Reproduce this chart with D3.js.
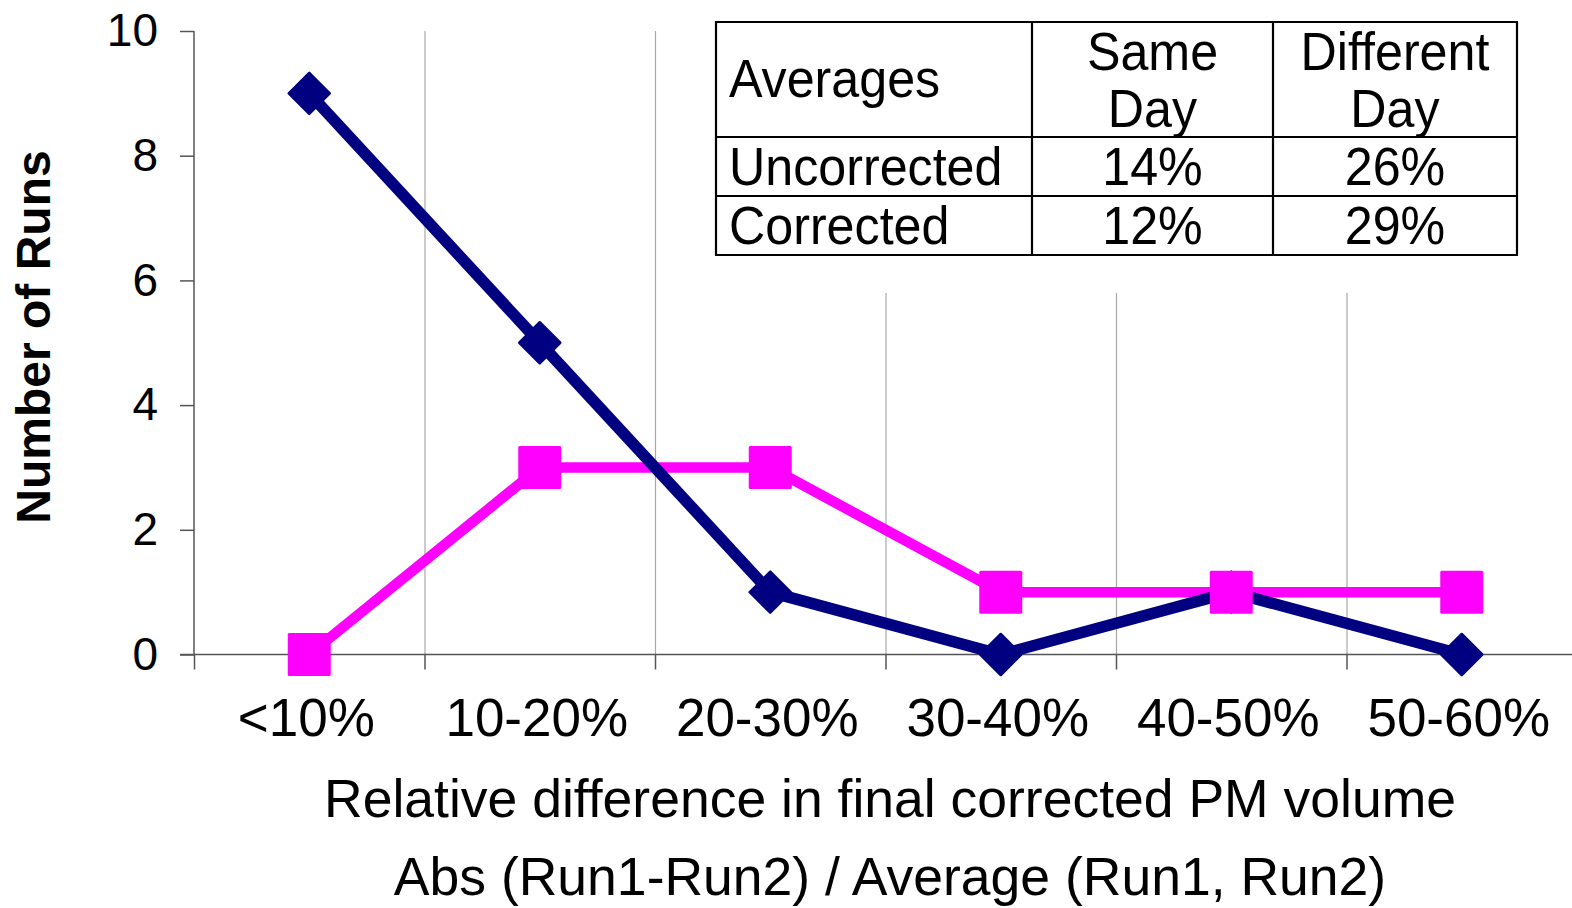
<!DOCTYPE html>
<html>
<head>
<meta charset="utf-8">
<script src="https://cdn.jsdelivr.net/npm/d3@7"></script>
<style>
  html, body { margin: 0; padding: 0; background: #fff; }
  svg { display: block; font-family: "Liberation Sans", Arial, sans-serif; }
</style>
</head>
<body>
<svg id="chart" width="1572" height="908"></svg>
<script>
// Histogram of run-to-run relative differences
const categories = ["<10%", "10-20%", "20-30%", "30-40%", "40-50%", "50-60%"];
const uncorrected = [9, 5, 1, 0, 1, 0];
const corrected   = [0, 3, 3, 1, 1, 1];
const yTicks = [0, 2, 4, 6, 8, 10];

// Summary table of averages
const tableHeader = ["Averages", "Same\nDay", "Different\nDay"];
const tableRows = [
  ["Uncorrected", "14%", "26%"],
  ["Corrected", "12%", "29%"]
];

const svg = d3.select("#chart");
const plot = { left: 194, right: 1577, top: 31, bottom: 654.5 };

const x = d3.scaleBand().domain(categories).range([plot.left, plot.right]).padding(0);
const y = d3.scaleLinear().domain([0, 10]).range([plot.bottom, plot.top]);

// Vertical gridlines at category boundaries
const boundaries = categories.slice(1).map(c => x(c)).concat([plot.right]);
svg.append("g").selectAll("line").data(boundaries).join("line")
  .attr("x1", d => d + 0.5).attr("x2", d => d + 0.5)
  .attr("y1", plot.top).attr("y2", plot.bottom)
  .attr("stroke", "#a8a8a8").attr("stroke-width", 1.2);

// Y axis
const yAxis = svg.append("g").attr("transform", `translate(${plot.left},0)`)
  .call(d3.axisLeft(y).tickValues(yTicks).tickSize(14).tickPadding(22));
yAxis.select(".domain").attr("stroke", "#555").attr("stroke-width", 1.5).attr("d", `M0,${plot.top}V${plot.bottom}`);
yAxis.selectAll(".tick line").attr("stroke", "#555").attr("stroke-width", 1.5);
yAxis.selectAll(".tick text").attr("font-size", 46).attr("fill", "#000")
  .attr("font-family", "'Liberation Sans', Arial, sans-serif");

// X axis: line plus boundary ticks
const xg = svg.append("g");
xg.append("line").attr("x1", plot.left - 14).attr("x2", 1572)
  .attr("y1", plot.bottom).attr("y2", plot.bottom)
  .attr("stroke", "#555").attr("stroke-width", 1.5);
xg.selectAll("line.tk").data([plot.left].concat(boundaries)).join("line")
  .attr("class", "tk")
  .attr("x1", d => d + 0.5).attr("x2", d => d + 0.5)
  .attr("y1", plot.bottom).attr("y2", plot.bottom + 15)
  .attr("stroke", "#555").attr("stroke-width", 1.5);
xg.selectAll("text").data(categories).join("text")
  .attr("x", d => x(d) + x.bandwidth() / 2 - 3)
  .attr("y", 736)
  .attr("text-anchor", "middle")
  .attr("font-size", 53)
  .text(d => d);

// Axis titles
svg.append("text").attr("x", 890).attr("y", 817).attr("text-anchor", "middle")
  .attr("font-size", 53.5).text("Relative difference in final corrected PM volume");
svg.append("text").attr("x", 890).attr("y", 895).attr("text-anchor", "middle")
  .attr("font-size", 53.5).text("Abs (Run1-Run2) / Average (Run1, Run2)");
svg.append("text")
  .attr("transform", "translate(50,337) rotate(-90)")
  .attr("text-anchor", "middle")
  .attr("font-size", 48).attr("font-weight", "bold")
  .text("Number of Runs");

// Series helpers
const cx = d => x(d) + x.bandwidth() / 2;
const lineGen = d3.line().x(d => cx(d.c)).y(d => y(d.v));
const toPts = arr => categories.map((c, i) => ({ c, v: arr[i] }));

// Summary table (drawn over the gridlines, beneath the series)
const tbl = { cols: [716, 1032, 1273, 1517], rowsY: [22, 137, 196, 255] };
svg.append("rect").attr("x", 712).attr("y", 16).attr("width", 815).attr("height", 277).attr("fill", "#fff");
const tg = svg.append("g").attr("stroke", "#000").attr("stroke-width", 2.2);
tbl.rowsY.forEach(yy => tg.append("line").attr("x1", tbl.cols[0] - 1).attr("x2", tbl.cols[3] + 1).attr("y1", yy).attr("y2", yy));
tbl.cols.forEach(xx => tg.append("line").attr("x1", xx).attr("x2", xx).attr("y1", tbl.rowsY[0]).attr("y2", tbl.rowsY[3]));

function condensed(xPos, yPos, str, anchor) {
  svg.append("text")
    .attr("transform", `translate(${xPos},${yPos}) scale(0.93,1)`)
    .attr("text-anchor", anchor)
    .attr("font-size", 54)
    .text(str);
}
// header
condensed(729, 97, tableHeader[0], "start");
[1, 2].forEach(ci => {
  const mid = (tbl.cols[ci] + tbl.cols[ci + 1]) / 2;
  const parts = tableHeader[ci].split("\n");
  condensed(mid, 70, parts[0], "middle");
  condensed(mid, 127, parts[1], "middle");
});
// body rows
tableRows.forEach((row, ri) => {
  const base = [185, 244][ri];
  condensed(729, base, row[0], "start");
  [1, 2].forEach(ci => condensed((tbl.cols[ci] + tbl.cols[ci + 1]) / 2, base, row[ci], "middle"));
});

// Lines
svg.append("path").datum(toPts(corrected)).attr("d", lineGen)
  .attr("fill", "none").attr("stroke", "#ff00ff").attr("stroke-width", 10.5).attr("stroke-linejoin", "round");
svg.append("path").datum(toPts(uncorrected)).attr("d", lineGen)
  .attr("fill", "none").attr("stroke", "#000080").attr("stroke-width", 11.5).attr("stroke-linejoin", "round");

// Markers: navy diamonds, then magenta squares on top
svg.append("g").selectAll("path").data(toPts(uncorrected)).join("path")
  .attr("transform", d => `translate(${cx(d.c)},${y(d.v)}) rotate(45)`)
  .attr("d", "M-14.5,-14.5H14.5V14.5H-14.5Z")
  .attr("fill", "#000080").attr("stroke", "#000080").attr("stroke-width", 2.5).attr("stroke-linejoin", "round");
svg.append("g").selectAll("rect").data(toPts(corrected)).join("rect")
  .attr("x", d => cx(d.c) - 21.5).attr("y", d => y(d.v) - 21.5)
  .attr("width", 43).attr("height", 43).attr("rx", 1.5)
  .attr("fill", "#ff00ff");
</script>
</body>
</html>
